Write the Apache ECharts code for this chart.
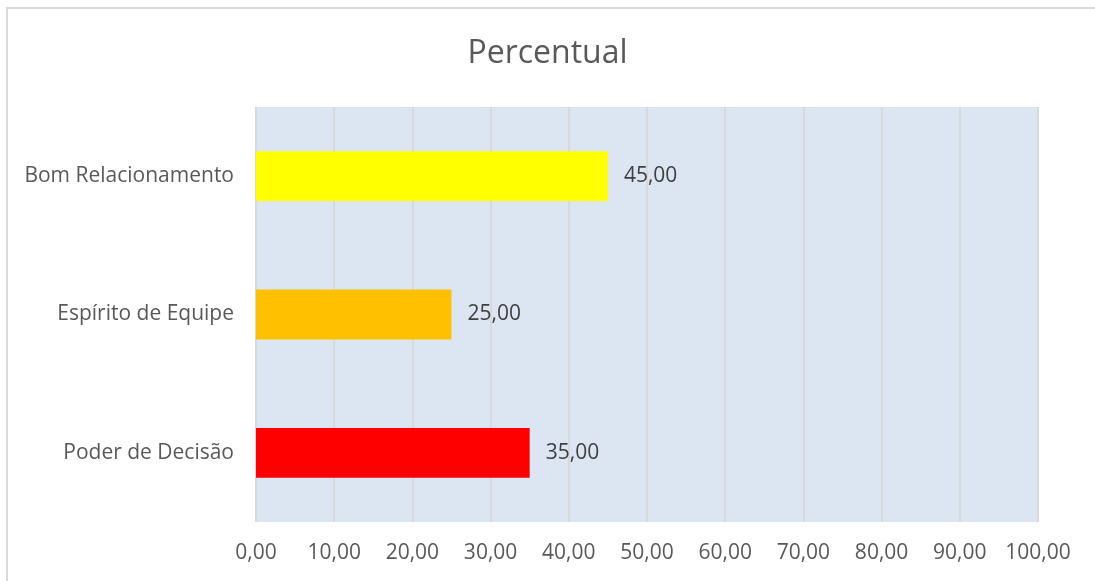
<!DOCTYPE html>
<html>
<head>
<meta charset="utf-8">
<script src="https://cdn.jsdelivr.net/npm/echarts@6/dist/echarts.min.js"></script>
<style>
  html, body { margin: 0; padding: 0; background: #fff; overflow: hidden; }
  #chart { width: 1095px; height: 581px; }
</style>
</head>
<body>
<div id="chart"></div>
<script>
// categories listed bottom to top, as the y axis draws them
const categories = ['Poder de Decisão', 'Espírito de Equipe', 'Bom Relacionamento']
const values = [35, 25, 45]
const barColors = ['#ff0000', '#ffc000', '#ffff00']
const xTicks = [0, 10, 20, 30, 40, 50, 60, 70, 80, 90, 100]

const fmt = (v) => v.toFixed(2).replace('.', ',')
const FONT = '"Open Sans", "Noto Sans", sans-serif'

const chart = echarts.init(document.getElementById('chart'))
chart.setOption({
  animation: false,
  textStyle: { fontFamily: FONT },
  title: {
    text: 'Percentual',
    left: 'center',
    top: 33,
    textStyle: { fontFamily: FONT, fontSize: 32, fontWeight: 'normal', color: '#595959' },
  },
  // chart frame: only top and left edges fall inside the picture
  graphic: [
    {
      type: 'line',
      shape: { x1: 6, y1: 8, x2: 1095, y2: 8 },
      style: { stroke: '#d9d9d9', lineWidth: 2 },
      silent: true,
    },
    {
      type: 'line',
      shape: { x1: 7, y1: 7, x2: 7, y2: 581 },
      style: { stroke: '#d9d9d9', lineWidth: 2 },
      silent: true,
    },
  ],
  grid: { left: 256, right: 57, top: 107, bottom: 59, backgroundColor: '#dce6f2', show: true, borderWidth: 0 },
  xAxis: {
    type: 'value',
    min: xTicks[0],
    max: xTicks[xTicks.length - 1],
    interval: 10,
    axisLine: { show: false },
    axisTick: { show: false },
    splitLine: { show: true, lineStyle: { color: '#d9d9d9', width: 2 } },
    axisLabel: { formatter: (v) => fmt(v), fontSize: 21, color: '#595959', margin: 21 },
  },
  yAxis: {
    type: 'category',
    data: categories,
    axisLine: { show: false },
    axisTick: { show: false },
    axisLabel: { fontSize: 21, color: '#595959', margin: 22 },
  },
  series: [
    {
      type: 'bar',
      barWidth: '36%',
      data: values.map((v, i) => ({ value: v, itemStyle: { color: barColors[i] } })),
      label: {
        show: true,
        position: 'right',
        distance: 16,
        formatter: (p) => fmt(p.value),
        fontSize: 21,
        color: '#404040',
      },
    },
  ],
})
</script>
</body>
</html>
